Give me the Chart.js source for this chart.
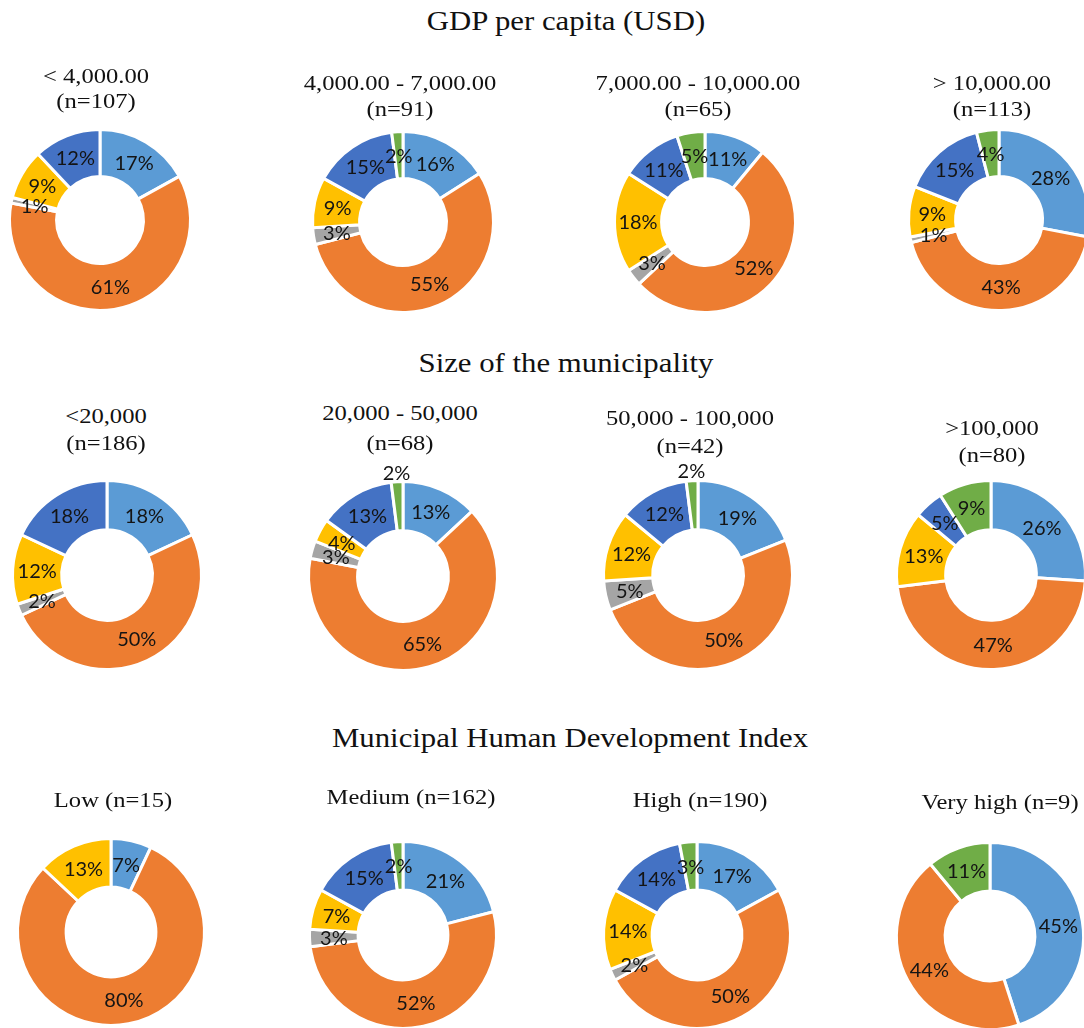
<!DOCTYPE html>
<html>
<head>
<meta charset="utf-8">
<script src="https://cdn.jsdelivr.net/npm/chart.js@4.4.1/dist/chart.umd.min.js"></script>
<style>
  html, body { margin: 0; padding: 0; background: #ffffff; }
  body { width: 1084px; height: 1028px; position: relative; overflow: hidden; }
  .txt {
    position: absolute; white-space: nowrap; text-align: center; color: #111;
    font-family: 'Liberation Serif', 'Times New Roman', serif;
    transform-origin: center center;
  }
  .sec { font-size: 27px; line-height: 27px; transform: scaleX(1.14); }
  .sub { font-size: 21px; line-height: 21px; transform: scaleX(1.17); }
  .box { position: absolute; }
</style>
</head>
<body>
<script>
// ---- data -----------------------------------------------------------
// slice order (clockwise from 12 o'clock)
const sliceNames = ['Group 1', 'Group 2', 'Group 3', 'Group 4', 'Group 5', 'Group 6'];

const sectionTitles = ['GDP per capita (USD)', 'Size of the municipality', 'Municipal Human Development Index'];

const gdpTitles  = [['< 4,000.00', '(n=107)'], ['4,000.00 - 7,000.00', '(n=91)'], ['7,000.00 - 10,000.00', '(n=65)'], ['> 10,000.00', '(n=113)']];
const sizeTitles = [['<20,000', '(n=186)'], ['20,000 - 50,000', '(n=68)'], ['50,000 - 100,000', '(n=42)'], ['>100,000', '(n=80)']];
const hdiTitles  = [['Low (n=15)'], ['Medium (n=162)'], ['High (n=190)'], ['Very high (n=9)']];

// percentage shares per group
const gdpShares = [
  [17, 61, 1, 9, 12, 0],
  [16, 55, 3, 9, 15, 2],
  [11, 52, 3, 18, 11, 5],
  [28, 43, 1, 9, 15, 4]
];
const sizeShares = [
  [18, 50, 2, 12, 18, 0],
  [13, 65, 3, 4, 13, 2],
  [19, 50, 5, 12, 12, 2],
  [26, 47, 0, 13, 5, 9]
];
const hdiShares = [
  [7, 80, 0, 13, 0, 0],
  [21, 52, 3, 7, 15, 2],
  [17, 50, 2, 14, 14, 3],
  [45, 44, 0, 0, 0, 11]
];

// ---- styling & layout ----------------------------------------------
const sliceColors = ['#5B9BD5', '#ED7D31', '#A5A5A5', '#FFC000', '#4472C4', '#70AD47'];

// section heading centres (x, y of cap middle)
const sectionPos = [[566, 21], [566, 363], [570, 738]];

// donut centre and visible outer radius, row by row
const donutPos = [
  [[100, 220, 89], [403, 222, 89], [705, 222, 89], [999, 220, 89]],
  [[107, 575, 93], [403, 576, 93], [698, 575, 93], [991, 575, 93]],
  [[111, 932, 92], [403, 935, 92], [697, 935, 92], [990, 936, 92]]
];
// subtitle centres: x, then y of each line
const subPos = [
  [[96, 76, 101], [400, 83, 109], [698, 83, 109], [992, 83, 109]],
  [[106, 416, 443], [400, 413, 443], [690, 418, 446], [992, 428, 455]],
  [[113, 800], [411, 797], [700, 800], [1000, 802]]
];
// labels placed just outside the ring: [row, col, slice, radius factor]
const outerLabels = [[1, 1, 5, 1.10], [1, 2, 5, 1.11]];

const PAD = 50;

const pctLabels = {
  id: 'pctLabels',
  afterDatasetsDraw(chart, args, opts) {
    const ctx = chart.ctx;
    const meta = chart.getDatasetMeta(0);
    const values = chart.data.datasets[0].data;
    ctx.save();
    ctx.font = opts.font;
    ctx.fillStyle = opts.color;
    ctx.textAlign = 'center';
    ctx.textBaseline = 'middle';
    meta.data.forEach((arc, i) => {
      const v = values[i];
      if (!v) return;
      let { x, y } = arc.tooltipPosition();
      const push = opts.push && opts.push[i];
      if (push) {
        const p = arc.getProps(['x', 'y', 'startAngle', 'endAngle', 'outerRadius']);
        const mid = (p.startAngle + p.endAngle) / 2;
        x = p.x + Math.cos(mid) * p.outerRadius * push;
        y = p.y + Math.sin(mid) * p.outerRadius * push;
      }
      ctx.fillText(v + '%', x, y + 1);
    });
    ctx.restore();
  }
};

function addText(cls, text, cx, cy, size) {
  const d = document.createElement('div');
  d.className = 'txt ' + cls;
  d.textContent = text;
  d.style.left = (cx - 300) + 'px';
  d.style.width = '600px';
  d.style.top = (cy - size * 0.5) + 'px';
  document.body.appendChild(d);
}

function addDonut(values, pos, push) {
  const [cx, cy, r] = pos;
  const S = 2 * r + 6 + 2 * PAD;
  const box = document.createElement('div');
  box.className = 'box';
  box.style.left = (cx - S / 2) + 'px';
  box.style.top = (cy - S / 2) + 'px';
  box.style.width = S + 'px';
  box.style.height = S + 'px';
  const cv = document.createElement('canvas');
  cv.width = S; cv.height = S;
  cv.style.width = S + 'px'; cv.style.height = S + 'px';
  box.appendChild(cv);
  document.body.appendChild(box);
  new Chart(cv, {
    type: 'doughnut',
    data: {
      labels: sliceNames,
      datasets: [{
        data: values,
        backgroundColor: sliceColors,
        borderColor: '#ffffff',
        borderWidth: (c) => (c.raw ? 3 : 0),
        hoverOffset: 0,
        offset: 0
      }]
    },
    options: {
      responsive: false,
      animation: false,
      events: [],
      cutout: '48%',
      layout: { padding: PAD },
      plugins: {
        legend: { display: false },
        tooltip: { enabled: false },
        title: { display: false },
        pctLabels: { font: '20px Lato, Carlito, sans-serif', color: '#141414', push: push }
      }
    },
    plugins: [pctLabels]
  });
}

const allShares = [gdpShares, sizeShares, hdiShares];
const allTitles = [gdpTitles, sizeTitles, hdiTitles];

sectionTitles.forEach((t, s) => addText('sec', t, sectionPos[s][0], sectionPos[s][1], 27));

allShares.forEach((rowShares, row) => {
  rowShares.forEach((vals, col) => {
    const push = {};
    outerLabels.forEach(([r, c, i, f]) => { if (r === row && c === col) push[i] = f; });
    addDonut(vals, donutPos[row][col], push);
    const sp = subPos[row][col];
    allTitles[row][col].forEach((line, k) => addText('sub', line, sp[0], sp[1 + k], 21));
  });
});
</script>
</body>
</html>
